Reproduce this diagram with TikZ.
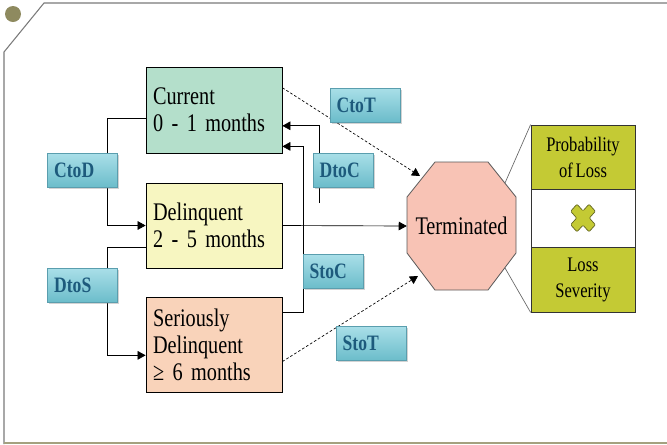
\documentclass[tikz,border=0pt]{standalone}
\usepackage{fontspec}
\setmainfont{Liberation Serif}[FakeStretch=0.8,WordSpace=0.7]
\usetikzlibrary{arrows.meta,shadows}
\definecolor{curfill}{HTML}{B4DFCB}
\definecolor{delfill}{HTML}{F7F6C1}
\definecolor{serfill}{HTML}{F9D3BA}
\definecolor{termfill}{HTML}{F8C3B5}
\definecolor{panelfill}{HTML}{C4CA34}
\definecolor{crossedge}{HTML}{5E6020}
\definecolor{tagtop}{HTML}{A9DFE8}
\definecolor{tagbot}{HTML}{6BBCCA}
\definecolor{tagedge}{HTML}{5A9EAE}
\definecolor{tagtext}{HTML}{1D5A7C}
\definecolor{frameline}{HTML}{7A7A7A}
\definecolor{dotfill}{HTML}{8E8A5F}
\begin{document}
\begin{tikzpicture}[x=0.75pt,y=-0.75pt,
  every node/.style={font=\fontsize{19}{20.25}\selectfont},
  state/.style={draw=black,line width=0.6pt,align=left,text width=91.5pt,inner xsep=5.25pt},
  tag/.style={draw=tagedge,line width=0.4pt,top color=tagtop,bottom color=tagbot,
    text=tagtext,font=\fontsize{16.5}{17}\selectfont\bfseries,align=left,
    minimum height=25.5pt,inner xsep=5pt,inner ysep=0pt,
    drop shadow={opacity=0.35,shadow xshift=1.2pt,shadow yshift=-1.2pt}},
  widetag/.style={tag,text width=42.5pt},
  narrowtag/.style={tag,text width=35pt},
  factor/.style={draw=black!80,line width=0.6pt,align=center,minimum width=78pt,
    font=\fontsize{15.5}{19.5}\selectfont},
  link/.style={line width=0.5pt,-{Triangle[length=6pt,width=6.5pt]}},
  dashlink/.style={link,dash pattern=on 2pt off 1.5pt}]
  \useasboundingbox (0,0) rectangle (667,444);
  % frame
  \draw[frameline,line width=0.8pt] (4,444) -- (4,52) -- (44,3) -- (667,3);
  \draw[dotfill!80,line width=0.8pt] (4,443) -- (667,443);
  \fill[dotfill] (13,14) circle (6pt);
  % states
  \node[state,fill=curfill,minimum height=64.5pt] (cur) at (214,110) {Current\\0 - 1 months};
  \node[state,fill=delfill,minimum height=63.75pt] (del) at (214,225.5) {Delinquent\\2 - 5 months};
  \node[state,fill=serfill,minimum height=71.25pt] (ser) at (214,344.5) {Seriously\\Delinquent\\≥ 6 months};
  \filldraw[fill=termfill,draw=black!65,line width=0.6pt]
    (435,162) -- (488,162) -- (516,197) -- (516,253) -- (488,290) -- (435,290)
    -- (407,253) -- (407,197) -- cycle;
  \node[minimum width=81.75pt,minimum height=96pt,inner sep=0pt] (term) at (461.5,226) {Terminated};
  \coordinate (termnw) at (420,176);
  \coordinate (termsw) at (418,276);
  \coordinate (termne) at (505,183);
  \coordinate (termse) at (505,268);
  \coordinate (dtocfoot) at (319,203);
  % transitions
  \draw[link] (cur.187) -- ++(-38,0) |- (del.west);
  \draw[link] (del.198) -- ++(-38,0) |- (ser.189);
  \draw[link] (dtocfoot) |- (cur.-13);
  \draw[link] (ser.25.5) -- ++(21,0) |- (cur.-28);
  \draw[link] (del.east) -- (term.west);
  \draw[dashlink] (cur.18) -- (termnw);
  \draw[dashlink] (ser.-14) -- (termsw);
  % labels
  \node[widetag] (ctod) at (82.5,170.5) {CtoD};
  \node[widetag] (dtos) at (82.5,285.5) {DtoS};
  \node[widetag] (ctot) at (365,105) {CtoT};
  \node[narrowtag] (dtoc) at (343,170) {DtoC};
  \node[narrowtag] (stoc) at (333,271.5) {StoC};
  \node[widetag] (stot) at (371,343.5) {StoT};
  % loss panel
  \node[factor,fill=panelfill,minimum height=48pt] (prob) at (583,157) {Probability\\of Loss};
  \node[factor,fill=white,minimum height=43.5pt] (mult) at (583,218) {};
  \node[factor,fill=panelfill,minimum height=48.75pt] (sev) at (583,279.5) {Loss\\Severity};
  \filldraw[fill=panelfill,draw=crossedge,line width=0.5pt,rounded corners=0.8pt,
    shift={(mult.center)},yscale=1.12,rotate=45]
    (4.5,13) -- (4.5,4.5) -- (13,4.5) -- (13,-4.5) -- (4.5,-4.5) -- (4.5,-13)
    -- (-4.5,-13) -- (-4.5,-4.5) -- (-13,-4.5) -- (-13,4.5) -- (-4.5,4.5) -- (-4.5,13) -- cycle;
  \draw[black!60,line width=0.5pt] (termne) -- (prob.north west);
  \draw[black!60,line width=0.5pt] (termse) -- (sev.south west);
\end{tikzpicture}
\end{document}
